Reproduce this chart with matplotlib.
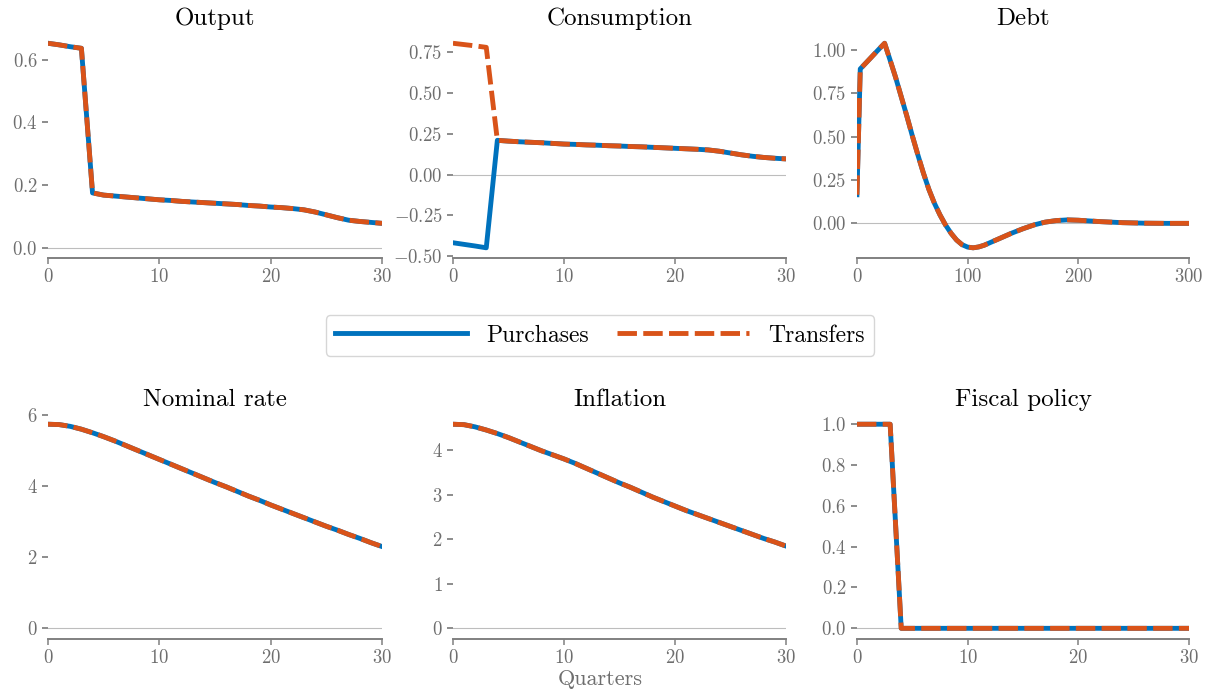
import numpy as np
import matplotlib
matplotlib.use("Agg")
import matplotlib.pyplot as plt

plt.rcParams['font.family'] = 'cmr10'
plt.rcParams['mathtext.fontset'] = 'cm'
plt.rcParams['axes.formatter.use_mathtext'] = True

blue = '#0072BD'
orange = '#D95319'
grey = '#6e6e6e'

quarters = np.arange(31)

output = [0.652, 0.647, 0.641, 0.636, 0.175, 0.168, 0.165, 0.162, 0.159, 0.156,
          0.153, 0.151, 0.148, 0.146, 0.144, 0.142, 0.140, 0.138, 0.135, 0.133,
          0.130, 0.128, 0.125, 0.121, 0.114, 0.105, 0.096, 0.088, 0.084, 0.081, 0.078]

cons_tail = [0.210, 0.205, 0.201, 0.198, 0.195, 0.191, 0.187, 0.185, 0.182, 0.180,
             0.177, 0.175, 0.172, 0.170, 0.167, 0.164, 0.161, 0.158, 0.155, 0.151,
             0.143, 0.132, 0.121, 0.112, 0.105, 0.100, 0.096]
cons_purchases = [-0.418, -0.428, -0.438, -0.449] + cons_tail
cons_transfers = [0.805, 0.797, 0.789, 0.780] + cons_tail

debt_t = [0, 3, 10, 20, 25, 30, 35, 40, 45, 50, 55, 60, 65, 70, 75, 80, 85, 90,
          95, 100, 105, 110, 115, 120, 130, 140, 150, 160, 170, 180, 190, 200,
          210, 220, 240, 260, 280, 300]
debt = [0.164, 0.890, 0.937, 1.005, 1.038, 0.940, 0.840, 0.730, 0.620, 0.505,
        0.395, 0.290, 0.195, 0.115, 0.048, -0.010, -0.058, -0.097, -0.124, -0.138,
        -0.142, -0.137, -0.127, -0.113, -0.085, -0.057, -0.032, -0.010, 0.006, 0.015,
        0.019, 0.017, 0.013, 0.009, 0.003, 0.000, -0.001, -0.001]

nominal = [5.74, 5.73, 5.68, 5.60, 5.50, 5.39, 5.27, 5.14, 5.01, 4.88,
           4.75, 4.62, 4.49, 4.36, 4.23, 4.10, 3.98, 3.85, 3.72, 3.60,
           3.47, 3.35, 3.23, 3.11, 2.99, 2.87, 2.76, 2.64, 2.53, 2.41, 2.30]

inflation = [4.59, 4.58, 4.53, 4.46, 4.38, 4.29, 4.19, 4.09, 3.99, 3.90,
             3.81, 3.71, 3.60, 3.49, 3.38, 3.27, 3.17, 3.06, 2.95, 2.85,
             2.75, 2.65, 2.56, 2.47, 2.38, 2.29, 2.20, 2.11, 2.02, 1.94, 1.85]

fiscal = [1.0, 1.0, 1.0, 1.0] + [0.0] * 27

panels = [
    ("Output", quarters, output, output, 30, [0.0, 0.2, 0.4, 0.6]),
    ("Consumption", quarters, cons_purchases, cons_transfers, 30,
     [-0.5, -0.25, 0.0, 0.25, 0.5, 0.75]),
    ("Debt", debt_t, debt, debt, 300, [0.0, 0.25, 0.5, 0.75, 1.0]),
    ("Nominal rate", quarters, nominal, nominal, 30, [0, 2, 4, 6]),
    ("Inflation", quarters, inflation, inflation, 30, [0, 1, 2, 3, 4]),
    ("Fiscal policy", quarters, fiscal, fiscal, 30, [0.0, 0.2, 0.4, 0.6, 0.8, 1.0]),
]

fig = plt.figure(figsize=(12.15, 6.97), dpi=100)
lefts = [0.0395, 0.3728, 0.7053]
widths = [0.2749, 0.2741, 0.2733]
bottoms = [0.6298, 0.0839]
heights = [0.3228, 0.3221]

for k, (title, t, yp, yt, xmax, yticks) in enumerate(panels):
    r, c = divmod(k, 3)
    ax = fig.add_axes([lefts[c], bottoms[r], widths[c], heights[r]])
    ax.axhline(0, color='#bdbdbd', lw=0.8, zorder=0)
    lp, = ax.plot(t, yp, color=blue, lw=3.5, label='Purchases')
    lt, = ax.plot(t, yt, color=orange, lw=3.5, dashes=(4.0, 1.3), label='Transfers')
    ax.set_xlim(0, xmax)
    ax.set_yticks(yticks)
    ax.set_title(title, fontsize=18, pad=6)
    for s in ['top', 'right', 'left']:
        ax.spines[s].set_visible(False)
    ax.spines['bottom'].set_color('#808080')
    ax.spines['bottom'].set_linewidth(1.4)
    ax.tick_params(colors=grey, labelsize=13.5, width=1.1, length=4)
    ax.tick_params(axis='x', colors='#808080', labelcolor=grey)

fig.legend([lp, lt], ['Purchases', 'Transfers'], loc='center', ncol=2,
           bbox_to_anchor=(600 / 1215, 0.5187), fontsize=17, handlelength=5.6,
           columnspacing=1.2, frameon=True, edgecolor='#cccccc', fancybox=True)
fig.text(600 / 1215, 0.026, 'Quarters', ha='center', va='center',
         fontsize=16, color=grey)

fig.savefig('out.png', dpi=100)
